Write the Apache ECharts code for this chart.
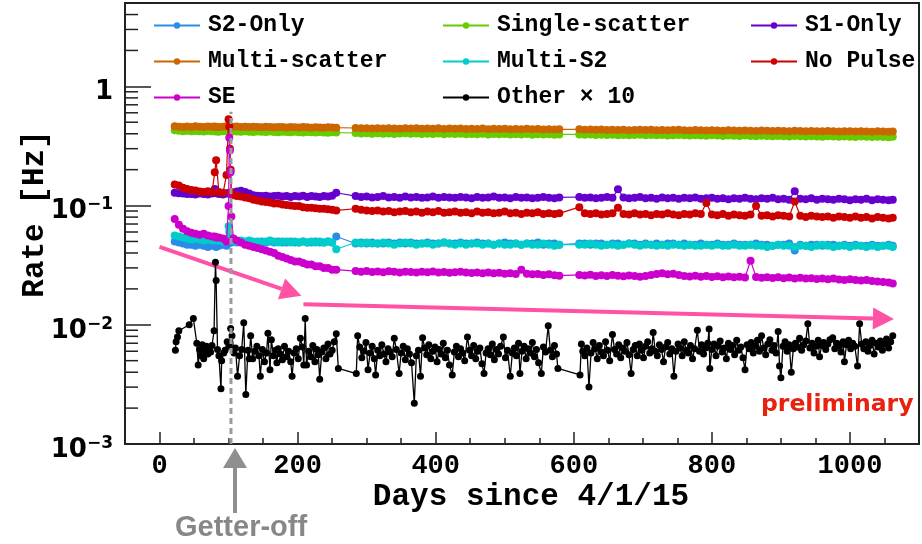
<!DOCTYPE html>
<html><head><meta charset="utf-8">
<script src="https://cdn.jsdelivr.net/npm/echarts@6/dist/echarts.min.js"></script>
<style>html,body{margin:0;padding:0;background:#fff;}#c{width:922px;height:544px;}</style>
</head><body><div id="c"></div>
<script>
// ---- data (days since 4/1/15, rates in Hz) ----
const days = [22,28,34,40,46,52,58,64,70,76, 80,82,86,92,97,100,101,102,103,104, 107,112,118,124,130,136,142,148,154,160, 166,172,178,184,190,196,202,208,214,220, 226,232,238,244,250,256,
 284,292,300,308,316,324,332,340,348,356, 364,372,380,388,396,404,412,420,428,436, 444,452,460,468,476,484,492,500,508,516, 524,532,540,548,556,564,572,579,
 608,616,624,632,640,648,656,664,672,680, 688,696,704,712,720,728,736,744,752,760, 768,776,784,792,800,808,816,824,832,840, 848,856,864,872,880,888,896,904,912,920, 928,936,944,952,960,968,976,984,992,1000, 1008,1016,1024,1032,1040,1048,1056,1062];

const multiScatter = [0.462,0.458,0.455,0.460,0.457,0.462,0.459,0.456,0.461,0.458, 0.460,0.457,0.455,0.459,0.462,0.458,0.456,0.460,0.457,0.455, 0.459,0.461,0.456,0.458,0.455,0.459,0.457,0.454,0.458,0.456, 0.453,0.457,0.455,0.452,0.456,0.454,0.451,0.455,0.453,0.450, 0.454,0.452,0.449,0.453,0.451,0.450,
 0.447,0.444,0.446,0.443,0.445,0.442,0.446,0.443,0.441,0.445, 0.442,0.444,0.440,0.443,0.441,0.444,0.439,0.442,0.440,0.443, 0.438,0.441,0.439,0.442,0.437,0.440,0.438,0.441,0.436,0.439, 0.437,0.440,0.436,0.438,0.435,0.437,0.434,0.436,
 0.436,0.433,0.435,0.432,0.434,0.431,0.433,0.430,0.432,0.429, 0.431,0.433,0.430,0.432,0.429,0.431,0.428,0.430,0.432,0.429, 0.427,0.430,0.428,0.426,0.429,0.427,0.425,0.428,0.426,0.424, 0.427,0.425,0.423,0.426,0.424,0.422,0.425,0.423,0.421,0.424, 0.422,0.420,0.423,0.421,0.419,0.422,0.420,0.418,0.421,0.419, 0.417,0.420,0.418,0.416,0.419,0.417,0.415,0.418];

const singleScatter = [0.428,0.424,0.421,0.425,0.419,0.423,0.420,0.417,0.422,0.419, 0.421,0.418,0.416,0.420,0.423,0.419,0.417,0.421,0.418,0.416, 0.420,0.417,0.415,0.419,0.416,0.414,0.418,0.415,0.413,0.417, 0.414,0.412,0.416,0.413,0.411,0.415,0.412,0.410,0.414,0.411, 0.409,0.413,0.410,0.408,0.412,0.409,
 0.406,0.403,0.405,0.401,0.404,0.400,0.403,0.399,0.402,0.405, 0.400,0.403,0.398,0.401,0.399,0.402,0.397,0.400,0.398,0.401, 0.396,0.399,0.397,0.400,0.395,0.398,0.396,0.399,0.394,0.397, 0.395,0.398,0.393,0.396,0.394,0.397,0.392,0.395,
 0.395,0.392,0.394,0.391,0.393,0.390,0.392,0.389,0.391,0.388, 0.390,0.392,0.389,0.391,0.388,0.390,0.387,0.389,0.391,0.388, 0.386,0.389,0.387,0.385,0.388,0.386,0.384,0.387,0.385,0.383, 0.386,0.384,0.382,0.385,0.383,0.381,0.384,0.382,0.380,0.383, 0.381,0.379,0.382,0.380,0.378,0.381,0.379,0.377,0.380,0.378, 0.376,0.379,0.377,0.375,0.378,0.376,0.374,0.377];

const s1Only = [0.128,0.127,0.126,0.125,0.125,0.124,0.126,0.125,0.124,0.126, 0.138,0.127,0.125,0.124,0.126,0.127,0.128,0.126,0.125,0.127, 0.128,0.131,0.133,0.130,0.126,0.122,0.121,0.120,0.121,0.119, 0.120,0.121,0.119,0.120,0.118,0.120,0.119,0.121,0.118,0.120, 0.119,0.118,0.120,0.119,0.121,0.128,
 0.120,0.118,0.119,0.117,0.118,0.120,0.117,0.118,0.116,0.119, 0.117,0.118,0.116,0.117,0.119,0.116,0.118,0.117,0.116,0.118, 0.117,0.115,0.118,0.116,0.117,0.119,0.116,0.117,0.115,0.118, 0.116,0.117,0.115,0.116,0.118,0.116,0.115,0.117,
 0.118,0.116,0.117,0.115,0.116,0.118,0.116,0.137,0.117,0.115, 0.116,0.118,0.115,0.116,0.114,0.117,0.115,0.116,0.114,0.116, 0.115,0.117,0.114,0.115,0.116,0.114,0.115,0.113,0.115,0.114, 0.116,0.114,0.113,0.115,0.114,0.116,0.113,0.114,0.112,0.132, 0.114,0.113,0.115,0.112,0.114,0.113,0.112,0.114,0.113,0.111, 0.113,0.112,0.114,0.111,0.113,0.112,0.111,0.112];

const noPulse = [0.150,0.147,0.141,0.138,0.135,0.134,0.131,0.130,0.132,0.129, 0.190,0.240,0.130,0.128,0.180,0.530,0.460,0.300,0.200,0.130, 0.122,0.120,0.119,0.117,0.115,0.112,0.110,0.108,0.107,0.106, 0.104,0.104,0.102,0.101,0.100,0.099,0.099,0.097,0.096,0.096, 0.095,0.094,0.094,0.093,0.092,0.091,
 0.094,0.092,0.091,0.090,0.091,0.089,0.090,0.088,0.089,0.090, 0.088,0.089,0.087,0.089,0.088,0.090,0.087,0.088,0.089,0.087, 0.088,0.086,0.089,0.087,0.088,0.086,0.087,0.089,0.086,0.087, 0.085,0.087,0.086,0.088,0.085,0.086,0.085,0.086,
 0.097,0.086,0.085,0.086,0.084,0.085,0.086,0.096,0.085,0.084, 0.086,0.084,0.085,0.083,0.085,0.084,0.086,0.084,0.083,0.085, 0.084,0.086,0.085,0.105,0.084,0.083,0.085,0.082,0.084,0.083, 0.082,0.084,0.099,0.082,0.083,0.081,0.083,0.082,0.081,0.108, 0.082,0.080,0.082,0.081,0.080,0.081,0.079,0.081,0.080,0.079, 0.081,0.079,0.080,0.078,0.080,0.079,0.078,0.079];

const multiS2 = [0.056,0.055,0.054,0.053,0.052,0.053,0.052,0.051,0.052,0.051, 0.052,0.051,0.051,0.050,0.051,0.067,0.060,0.055,0.052,0.051, 0.051,0.050,0.051,0.050,0.051,0.050,0.050,0.049,0.050,0.051, 0.050,0.049,0.050,0.050,0.049,0.050,0.049,0.050,0.049,0.050, 0.049,0.050,0.049,0.050,0.049,0.043,
 0.049,0.048,0.049,0.048,0.048,0.049,0.048,0.047,0.048,0.049, 0.048,0.047,0.048,0.048,0.047,0.048,0.049,0.048,0.047,0.048, 0.047,0.048,0.048,0.047,0.048,0.047,0.048,0.047,0.047,0.048, 0.047,0.048,0.047,0.047,0.048,0.047,0.046,0.047,
 0.047,0.047,0.048,0.047,0.046,0.047,0.047,0.046,0.047,0.048, 0.047,0.046,0.047,0.047,0.046,0.047,0.046,0.047,0.047,0.046, 0.047,0.046,0.046,0.047,0.046,0.047,0.046,0.046,0.047,0.046, 0.046,0.047,0.046,0.046,0.045,0.046,0.047,0.046,0.046,0.045, 0.046,0.046,0.045,0.046,0.047,0.046,0.045,0.046,0.046,0.045, 0.046,0.046,0.045,0.046,0.045,0.046,0.046,0.045];

const s2Only = [0.050,0.049,0.048,0.047,0.047,0.046,0.047,0.046,0.045,0.046, 0.046,0.045,0.046,0.047,0.046,0.048,0.049,0.050,0.050,0.049, 0.050,0.049,0.050,0.049,0.050,0.049,0.049,0.050,0.049,0.050, 0.049,0.050,0.049,0.049,0.050,0.049,0.049,0.050,0.049,0.049, 0.050,0.049,0.049,0.050,0.049,0.055,
 0.048,0.049,0.048,0.049,0.048,0.048,0.049,0.048,0.049,0.048, 0.049,0.048,0.048,0.049,0.048,0.048,0.049,0.048,0.048,0.049, 0.048,0.048,0.049,0.048,0.048,0.047,0.048,0.049,0.048,0.048, 0.047,0.048,0.048,0.049,0.047,0.048,0.048,0.047,
 0.048,0.048,0.047,0.048,0.048,0.047,0.048,0.048,0.047,0.048, 0.048,0.047,0.048,0.047,0.048,0.047,0.048,0.048,0.047,0.048, 0.047,0.047,0.048,0.047,0.047,0.048,0.047,0.047,0.048,0.047, 0.047,0.047,0.048,0.047,0.047,0.046,0.047,0.047,0.048,0.042, 0.047,0.046,0.047,0.047,0.046,0.047,0.047,0.046,0.047,0.046, 0.047,0.046,0.046,0.047,0.046,0.046,0.047,0.046];

const se = [0.077,0.069,0.064,0.061,0.059,0.058,0.057,0.058,0.056,0.055, 0.055,0.054,0.054,0.053,0.050,0.099,0.370,0.290,0.190,0.081, 0.053,0.051,0.049,0.047,0.046,0.045,0.044,0.043,0.042,0.041, 0.040,0.038,0.037,0.036,0.035,0.034,0.034,0.033,0.032,0.032, 0.031,0.031,0.030,0.030,0.029,0.029,
 0.0282,0.0279,0.0283,0.0277,0.0280,0.0276,0.0281,0.0278,0.0275,0.0279, 0.0277,0.0274,0.0278,0.0276,0.0280,0.0275,0.0277,0.0273,0.0276,0.0279, 0.0274,0.0272,0.0275,0.0271,0.0274,0.0270,0.0273,0.0268,0.0271,0.0266, 0.0289,0.0268,0.0265,0.0267,0.0262,0.0265,0.0260,0.0258,
 0.0262,0.0259,0.0263,0.0257,0.0260,0.0256,0.0261,0.0258,0.0255,0.0259, 0.0256,0.0253,0.0257,0.0262,0.0266,0.0270,0.0265,0.0268,0.0261,0.0257, 0.0254,0.0258,0.0253,0.0256,0.0252,0.0255,0.0251,0.0254,0.0250,0.0253, 0.0249,0.0345,0.0252,0.0248,0.0251,0.0247,0.0250,0.0246,0.0249,0.0245, 0.0248,0.0244,0.0246,0.0242,0.0245,0.0241,0.0244,0.0240,0.0238,0.0241, 0.0237,0.0235,0.0238,0.0233,0.0231,0.0228,0.0226,0.0222];

// "Other x 10": [day, rate Hz]
const otherPoints = [[23,0.0061],[24,0.0072],[26,0.0079],[28,0.0089],[43,0.0100],[49,0.0113],[54,0.0070],[56,0.0046],[58,0.0062],[60,0.0055],[62,0.0068],[64,0.0052],[66,0.0060],[68,0.0066],[70,0.0057],[72,0.0063],[74,0.0059],[76,0.0067],[79,0.0089],[81,0.0335],[82,0.0235],[84,0.0062],[86,0.0055],[89,0.0029],[90,0.0050],[93,0.0058],[95,0.0061],[98,0.0072],[101,0.0066],[103,0.0093],[105,0.0081],[108,0.0058],[110,0.0064],[113,0.0037],[116,0.0055],[119,0.0062],[122,0.0104],[125,0.0026],[128,0.0061],[130,0.0052],[132,0.0081],[135,0.0052],[138,0.0060],[141,0.0066],[144,0.0055],[146,0.0037],[149,0.0062],[152,0.0049],[155,0.0058],[157,0.0085],[160,0.0042],[162,0.0075],[165,0.0055],[168,0.0061],[170,0.0048],[172,0.0063],[175,0.0057],[178,0.0051],[181,0.0066],[184,0.0054],[187,0.0060],[190,0.0049],[192,0.0037],[195,0.0058],[198,0.0063],[201,0.0052],[204,0.0077],[207,0.0065],[209,0.0046],[211,0.0113],[213,0.0046],[216,0.0060],[219,0.0054],[222,0.0067],[225,0.0049],[228,0.0062],[230,0.0056],[232,0.0035],[235,0.0059],[238,0.0064],[241,0.0052],[244,0.0069],[247,0.0057],[250,0.0061],[253,0.0072],[256,0.0084],[259,0.0043],
[285,0.0039],[287,0.0081],[290,0.0065],[293,0.0053],[296,0.0060],[299,0.0071],[302,0.0042],[305,0.0058],[308,0.0066],[311,0.0052],[313,0.0038],[316,0.0061],[319,0.0055],[322,0.0068],[325,0.0057],[328,0.0049],[331,0.0063],[334,0.0059],[337,0.0054],[340,0.0077],[343,0.0062],[347,0.0039],[350,0.0058],[353,0.0066],[356,0.0051],[359,0.0063],[362,0.0057],[365,0.0048],[369,0.0022],[372,0.0055],[375,0.0061],[378,0.0037],[381,0.0078],[384,0.0064],[387,0.0056],[390,0.0068],[393,0.0052],[396,0.0060],[399,0.0065],[402,0.0049],[405,0.0062],[408,0.0057],[411,0.0070],[414,0.0053],[417,0.0061],[420,0.0046],[424,0.0038],[427,0.0059],[430,0.0066],[433,0.0054],[436,0.0063],[439,0.0058],[442,0.0050],[446,0.0079],[449,0.0061],[452,0.0055],[455,0.0067],[458,0.0052],[461,0.0060],[464,0.0064],[467,0.0047],[470,0.0039],[473,0.0058],[476,0.0063],[479,0.0056],[482,0.0069],[485,0.0051],[488,0.0062],[491,0.0057],[494,0.0066],[498,0.0079],[501,0.0053],[504,0.0061],[508,0.0037],[511,0.0058],[514,0.0064],[517,0.0055],[520,0.0070],[522,0.0039],[525,0.0060],[528,0.0066],[531,0.0052],[534,0.0063],[537,0.0058],[540,0.0071],[543,0.0054],[546,0.0062],[549,0.0048],[553,0.0039],[556,0.0065],[559,0.0059],[563,0.0098],[566,0.0061],[569,0.0054],[572,0.0067],[575,0.0057],[577,0.0043],
[609,0.0038],[611,0.0069],[613,0.0060],[616,0.0055],[619,0.0064],[622,0.0030],[625,0.0058],[628,0.0071],[631,0.0063],[634,0.0052],[637,0.0067],[640,0.0059],[643,0.0055],[646,0.0072],[649,0.0061],[652,0.0050],[656,0.0083],[659,0.0062],[662,0.0057],[665,0.0068],[668,0.0053],[671,0.0064],[674,0.0060],[677,0.0071],[680,0.0056],[683,0.0039],[686,0.0062],[689,0.0067],[692,0.0055],[695,0.0069],[698,0.0061],[701,0.0053],[704,0.0066],[707,0.0072],[710,0.0058],[713,0.0063],[715,0.0086],[718,0.0060],[721,0.0055],[724,0.0068],[727,0.0062],[730,0.0049],[733,0.0065],[736,0.0071],[739,0.0057],[742,0.0063],[745,0.0037],[748,0.0060],[751,0.0069],[754,0.0064],[757,0.0055],[760,0.0072],[763,0.0061],[766,0.0058],[769,0.0067],[772,0.0052],[775,0.0063],[779,0.0090],[782,0.0060],[785,0.0068],[788,0.0057],[791,0.0064],[794,0.0070],[796,0.0092],[797,0.0043],[800,0.0062],[803,0.0069],[806,0.0055],[809,0.0066],[812,0.0073],[815,0.0059],[818,0.0064],[821,0.0052],[824,0.0070],[827,0.0062],[830,0.0067],[833,0.0056],[836,0.0074],[839,0.0061],[842,0.0065],[845,0.0053],[848,0.0042],[851,0.0068],[854,0.0063],[857,0.0071],[860,0.0058],[863,0.0066],[866,0.0074],[869,0.0060],[872,0.0081],[875,0.0064],[878,0.0056],[881,0.0069],[884,0.0075],[887,0.0061],[890,0.0067],[893,0.0058],[896,0.0088],[898,0.0045],[900,0.0036],[903,0.0066],[906,0.0072],[909,0.0060],[912,0.0068],[915,0.0040],[918,0.0063],[921,0.0070],[924,0.0065],[927,0.0077],[930,0.0061],[933,0.0068],[936,0.0073],[939,0.0102],[942,0.0064],[945,0.0070],[948,0.0058],[951,0.0066],[954,0.0074],[956,0.0054],[959,0.0067],[962,0.0071],[965,0.0062],[968,0.0069],[971,0.0075],[975,0.0078],[978,0.0063],[981,0.0070],[984,0.0066],[987,0.0059],[990,0.0072],[992,0.0049],[995,0.0068],[998,0.0074],[1001,0.0063],[1004,0.0070],[1007,0.0066],[1011,0.0045],[1014,0.0102],[1017,0.0069],[1020,0.0063],[1023,0.0072],[1026,0.0060],[1029,0.0067],[1032,0.0074],[1035,0.0057],[1038,0.0070],[1041,0.0065],[1044,0.0073],[1047,0.0061],[1050,0.0069],[1053,0.0076],[1056,0.0064],[1059,0.0072],[1062,0.0081]];

const legendCol1 = ['S2-Only', 'Multi-scatter', 'SE'];
const legendCol2 = ['Single-scatter', 'Multi-S2', 'Other \u00d7 10'];
const legendCol3 = ['S1-Only', 'No Pulse'];
const yMinorTicks = [0.002,0.003,0.004,0.005,0.006,0.007,0.008,0.009, 0.02,0.03,0.04,0.05,0.06,0.07,0.08,0.09, 0.2,0.3,0.4,0.5,0.6,0.7,0.8,0.9, 2,3,4];
const getterOff = [[103.5, 0.001, 0.613]];          // day, from, to
const trendArrows = [[0, 0.0451, 205.5, 0.0175], [208.4, 0.0149, 1063.7, 0.0112]];

// ---- chart ----
const chart = echarts.init(document.getElementById('c'));
const pair = vals => days.map((d, i) => [d, vals[i]]);
const mono = '"Liberation Mono", "DejaVu Sans Mono", monospace';
const base = (name, color, data, z) => ({
  name, type: 'line', data, z, symbol: 'circle', symbolSize: 8, showSymbol: true,
  itemStyle: { color }, lineStyle: { color, width: 1.2 }, emphasis: { disabled: true }, animation: false
});
const legendBase = (left, data) => ({
  left, top: 14, orient: 'vertical', data, itemWidth: 46, itemHeight: 8, itemGap: 13, padding: 0,
  selectedMode: false,
  textStyle: { fontFamily: mono, fontWeight: 'bold', fontSize: 23, color: '#000', lineHeight: 23, padding: [0, 0, 0, 3] }
});

const option = {
  backgroundColor: '#fff',
  animation: false,
  grid: { left: 125, top: 3, width: 800, bottom: 100, show: true, borderColor: '#222', borderWidth: 2 },
  legend: [legendBase(153, legendCol1), legendBase(442, legendCol2), legendBase(750, legendCol3)],
  xAxis: {
    type: 'value', min: -50, max: 1100,
    axisLine: { show: true, onZero: false, lineStyle: { color: '#222', width: 2 } },
    axisTick: { show: true, inside: true, length: 12, lineStyle: { color: '#222', width: 1.5 } },
    minorTick: { show: true, splitNumber: 4, length: 6, lineStyle: { color: '#222', width: 1.5 } },
    splitLine: { show: false },
    axisLabel: {
      formatter: v => (Math.abs(v % 200) < 1e-6 && v >= 0 && v <= 1000) ? String(v) : '',
      fontFamily: mono, fontWeight: 'bold', fontSize: 27, color: '#000', margin: 9
    }
  },
  yAxis: {
    type: 'log', logBase: 10, min: 0.001, max: 5,
    axisLine: { show: true, onZero: false, lineStyle: { color: '#222', width: 2 } },
    axisTick: { show: true, inside: true, length: 26, lineStyle: { color: '#222', width: 1.5 } },
    splitLine: { show: false },
    axisLabel: {
      margin: 12,
      padding: [12, 0, 0, 0],
      formatter: v => {
        const l = Math.log10(v), e = Math.round(l);
        if (Math.abs(l - e) > 1e-6) return '';
        if (e === 0) return '{b|1}';
        return '{b|10}{s|' + (e < 0 ? '\u2212' : '') + Math.abs(e) + '}';
      },
      rich: {
        b: { fontFamily: '"DejaVu Sans", sans-serif', fontWeight: 'bold', fontSize: 26, color: '#000', lineHeight: 30 },
        s: { fontFamily: '"DejaVu Sans", sans-serif', fontWeight: 'bold', fontSize: 17, color: '#000', verticalAlign: 'top', lineHeight: 17 }
      }
    }
  },
  graphic: [
    { type: 'text', x: 35, y: 214, rotation: Math.PI / 2,
      style: { text: 'Rate [Hz]', font: 'bold 31px ' + mono, fill: '#000', align: 'center', verticalAlign: 'middle' } },
    { type: 'text', x: 531, y: 497,
      style: { text: 'Days since 4/1/15', font: 'bold 31px ' + mono, fill: '#000', align: 'center', verticalAlign: 'middle' } },
    { type: 'text', x: 761, y: 405,
      style: { text: 'preliminary', font: 'bold 23.5px "DejaVu Sans", sans-serif', fill: '#e8220f', align: 'left', verticalAlign: 'middle' } },
    { type: 'text', x: 175, y: 528,
      style: { text: 'Getter-off', font: 'bold 29px "Liberation Sans", Arial, sans-serif', fill: '#878787', align: 'left', verticalAlign: 'middle' } },
    { type: 'polygon', shape: { points: [[223, 468], [235, 448], [247, 468]] }, style: { fill: '#8f8f8f' } },
    { type: 'rect', shape: { x: 233, y: 466, width: 4, height: 47 }, style: { fill: '#8f8f8f' } }
  ],
  series: [
    {
      type: 'custom', name: 'trend', z: 1, silent: true, data: trendArrows,
      encode: { x: [0, 2], y: [1, 3] },
      renderItem: (p, api) => {
        const a = api.coord([api.value(0), api.value(1)]);
        const b = api.coord([api.value(2), api.value(3)]);
        const dx = b[0] - a[0], dy = b[1] - a[1], L = Math.hypot(dx, dy);
        const ux = dx / L, uy = dy / L, hl = 21, hw = 11;
        const bx = b[0] - ux * hl, by = b[1] - uy * hl;
        return { type: 'group', children: [
          { type: 'line', shape: { x1: a[0], y1: a[1], x2: bx, y2: by }, style: { stroke: '#ff52a5', lineWidth: 4 } },
          { type: 'polygon', shape: { points: [[b[0], b[1]], [bx - uy * hw, by + ux * hw], [bx + uy * hw, by - ux * hw]] }, style: { fill: '#ff52a5' } }
        ] };
      }
    },
    base('Single-scatter', '#66cc00', pair(singleScatter), 2),
    base('Multi-scatter', '#cc6600', pair(multiScatter), 3),
    base('S2-Only', '#2a8be8', pair(s2Only), 4),
    base('Multi-S2', '#00cccc', pair(multiS2), 5),
    base('S1-Only', '#6600cc', pair(s1Only), 6),
    base('No Pulse', '#cc0000', pair(noPulse), 7),
    base('SE', '#cc00cc', pair(se), 8),
    Object.assign(base('Other \u00d7 10', '#000000', otherPoints, 9), { symbolSize: 7, lineStyle: { color: '#000', width: 1.3 } }),
    {
      type: 'custom', name: 'getter', z: 10, silent: true, data: getterOff,
      renderItem: (p, api) => {
        const a = api.coord([api.value(0), api.value(1)]);
        const b = api.coord([api.value(0), api.value(2)]);
        return { type: 'line', shape: { x1: a[0], y1: a[1], x2: b[0], y2: b[1] }, style: { stroke: '#9a9a9a', lineWidth: 3, lineDash: [6, 4] } };
      }
    },
    {
      type: 'custom', name: 'yMinor', z: 11, silent: true, data: yMinorTicks.map(v => [-50, v]),
      renderItem: (p, api) => {
        const a = api.coord([api.value(0), api.value(1)]);
        return { type: 'line', shape: { x1: a[0], y1: a[1], x2: a[0] + 13, y2: a[1] }, style: { stroke: '#222', lineWidth: 1.5 } };
      }
    }
  ]
};
chart.setOption(option);
</script>
</body></html>
